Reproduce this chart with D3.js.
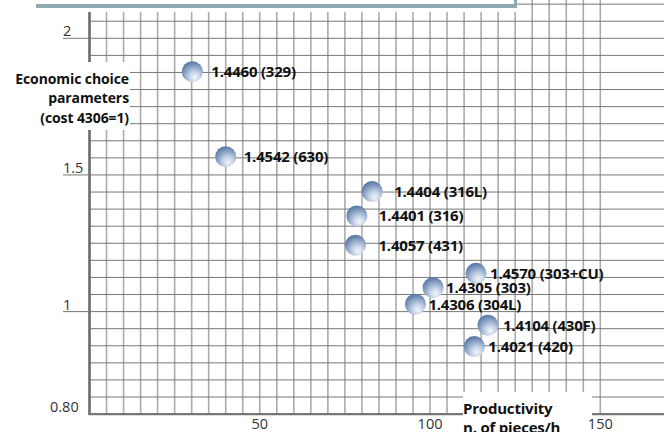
<!DOCTYPE html>
<html>
<head>
<meta charset="utf-8">
<script src="https://cdn.jsdelivr.net/npm/d3@7"></script>
<style>
  body { margin: 0; background: #fff; }
  svg { display: block; font-family: "Open Sans", "Noto Sans", sans-serif; }
</style>
</head>
<body>
<svg id="plot" width="664" height="432"></svg>
<script>
const svg = d3.select('#plot');
const width = parseFloat(svg.attr('width'));
const height = parseFloat(svg.attr('height'));

// Data
const grades = ['1.4460 (329)', '1.4542 (630)', '1.4404 (316L)', '1.4401 (316)', '1.4057 (431)',
                '1.4570 (303+CU)', '1.4305 (303)', '1.4306 (304L)', '1.4104 (430F)', '1.4021 (420)'];
const productivity = [30.2, 40.0, 83.0, 78.5, 78.1, 113.5, 100.9, 95.7, 117.0, 113.0];
const costIndex = [1.878, 1.567, 1.439, 1.350, 1.243, 1.140, 1.0875, 1.027, 0.950, 0.872];

const xTicks = [50, 100, 150];
const xTickLabels = ['50', '100', '150'];
const yTicks = [2, 1.5, 1];
const yTickLabels = ['2', '1.5', '1'];
const yBottomLabel = '0.80';

// label offsets (layout only)
const labelDx = [19, 18, 22, 22, 23, 14, 13, 13, 15, 14];

const xScale = d3.scaleLinear().domain([0, 150]).range([89.5, 600.3]);
const yScale = d3.scaleLinear().domain([1, 2]).range([311.6, 38.3]);
const yMin = 0.625;

// Grid
const gridG = svg.append('g');
const vLines = d3.range(0, 151, 5);
gridG.selectAll('.vline').data(vLines)
  .enter().append('line')
    .attr('x1', d => xScale(d)).attr('x2', d => xScale(d))
    .attr('y1', 0).attr('y2', yScale(yMin))
    .attr('stroke', '#ababab')
    .attr('stroke-width', 1.6);

const hLines = d3.range(yMin + 0.0625, 2.15, 0.0625);
gridG.selectAll('.hline').data(hLines)
  .enter().append('line')
    .attr('x1', xScale(0)).attr('x2', width)
    .attr('y1', d => yScale(d)).attr('y2', d => yScale(d))
    .attr('stroke', '#777')
    .attr('stroke-width', 1);

// top frame
svg.append('rect').attr('x', 0).attr('y', 0).attr('width', 516).attr('height', 12).attr('fill', '#fff');
svg.append('rect').attr('x', 36).attr('y', 4).attr('width', 481).attr('height', 4).attr('fill', '#8faab2');
svg.append('rect').attr('x', 514).attr('y', 0).attr('width', 3).attr('height', 8).attr('fill', '#8faab2');

// Axes
svg.append('line')
  .attr('x1', xScale(0)).attr('x2', xScale(0))
  .attr('y1', 12).attr('y2', yScale(yMin) + 1)
  .attr('stroke', '#6e6e6e').attr('stroke-width', 2.6);
svg.append('line')
  .attr('x1', xScale(0) - 1).attr('x2', width)
  .attr('y1', yScale(yMin)).attr('y2', yScale(yMin))
  .attr('stroke', '#777').attr('stroke-width', 2.2);

// y ticks
const yTickG = svg.append('g');
yTicks.forEach((t, i) => {
  yTickG.append('line')
    .attr('x1', 63).attr('x2', xScale(0))
    .attr('y1', yScale(t)).attr('y2', yScale(t))
    .attr('stroke', '#777').attr('stroke-width', 1);
  yTickG.append('text')
    .attr('x', 63).attr('y', yScale(t) - 2)
    .attr('font-size', 14.5).attr('fill', '#333')
    .text(yTickLabels[i]);
});
yTickG.append('text')
  .attr('x', 50).attr('y', yScale(yMin) - 2)
  .attr('font-size', 14.5).attr('fill', '#333')
  .text(yBottomLabel);

// y axis title
svg.append('rect').attr('x', 0).attr('y', 62).attr('width', 130).attr('height', 68).attr('fill', '#fff');
const yTitle = svg.append('text')
  .attr('text-anchor', 'end')
  .attr('font-size', 14).attr('font-weight', 'bold').attr('fill', '#111')
  .attr('letter-spacing', -0.1);
['Economic choice', 'parameters', '(cost 4306=1)'].forEach((s, i) => {
  yTitle.append('tspan').attr('x', 129).attr('y', 83.5 + i * 19.8).text(s);
});

// x axis title
svg.append('rect').attr('x', 463).attr('y', 392).attr('width', 129).attr('height', 40).attr('fill', '#fff');
const xTitle = svg.append('text')
  .attr('font-size', 15).attr('font-weight', 'bold').attr('fill', '#111')
  .attr('letter-spacing', -0.2);
['Productivity', 'n. of pieces/h'].forEach((s, i) => {
  xTitle.append('tspan').attr('x', 463).attr('y', 414 + i * 19).text(s);
});

// x ticks
svg.selectAll('.xtick').data(xTicks)
  .enter().append('text')
    .attr('x', d => xScale(d)).attr('y', 429)
    .attr('text-anchor', 'middle')
    .attr('font-size', 14.5).attr('fill', '#333')
    .text((d, i) => xTickLabels[i]);

// Balls
const defs = svg.append('defs');
const grad = defs.append('radialGradient')
  .attr('id', 'ball')
  .attr('cx', '60%').attr('cy', '72%').attr('r', '75%')
  .attr('fx', '62%').attr('fy', '78%');
grad.append('stop').attr('offset', '0%').attr('stop-color', '#f4f7fc');
grad.append('stop').attr('offset', '35%').attr('stop-color', '#c3d0e6');
grad.append('stop').attr('offset', '100%').attr('stop-color', '#4e6f9f');

const pts = svg.append('g');
grades.forEach((g, i) => {
  pts.append('circle')
    .attr('cx', xScale(productivity[i]))
    .attr('cy', yScale(costIndex[i]))
    .attr('r', 10.5)
    .attr('fill', 'url(#ball)');
  pts.append('text')
    .attr('x', xScale(productivity[i]) + labelDx[i])
    .attr('y', yScale(costIndex[i]))
    .attr('dy', '0.36em')
    .attr('font-size', 15).attr('font-weight', 'bold').attr('fill', '#111')
    .attr('letter-spacing', -0.2)
    .text(g);
});
</script>
</body>
</html>
